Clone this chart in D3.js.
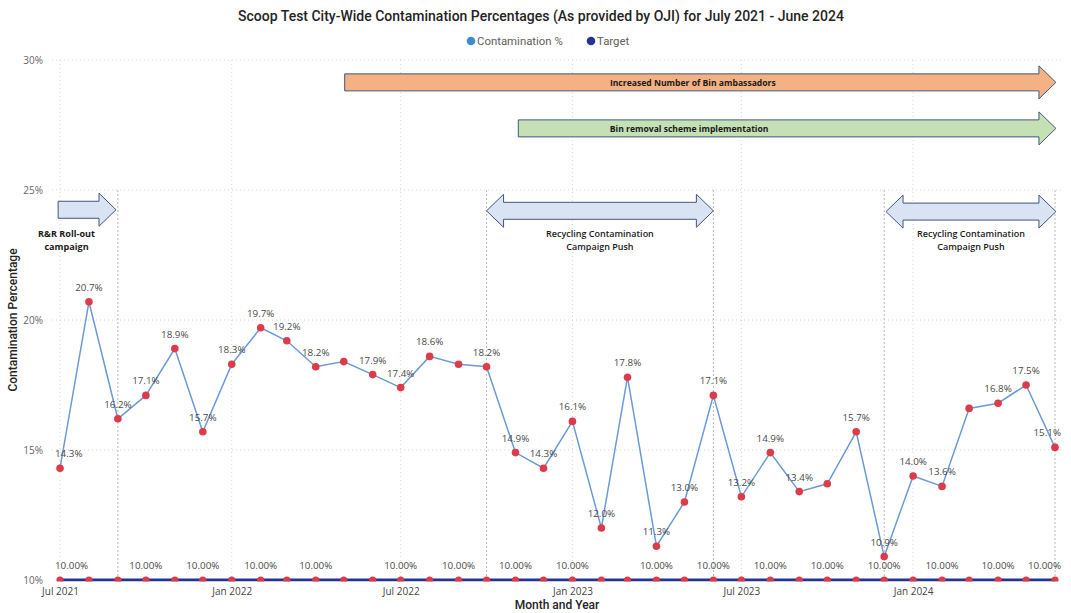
<!DOCTYPE html>
<html><head><meta charset="utf-8">
<script src="https://cdn.jsdelivr.net/npm/d3@7"></script>
<style>
body{margin:0;background:#fff}
svg{display:block}
</style>
</head><body>
<svg id="chart" width="1071" height="613"></svg>
<script>
// ---------- data ----------
const months = ["2021-07","2021-08","2021-09","2021-10","2021-11","2021-12",
  "2022-01","2022-02","2022-03","2022-04","2022-05","2022-06",
  "2022-07","2022-08","2022-09","2022-10","2022-11","2022-12",
  "2023-01","2023-02","2023-03","2023-04","2023-05","2023-06",
  "2023-07","2023-08","2023-09","2023-10","2023-11","2023-12",
  "2024-01","2024-02","2024-03","2024-04","2024-05","2024-06"];
const contamination = [14.3,20.7,16.2,17.1,18.9,15.7,
  18.3,19.7,19.2,18.2,18.4,17.9,
  17.4,18.6,18.3,18.2,14.9,14.3,
  16.1,12.0,17.8,11.3,13.0,17.1,
  13.2,14.9,13.4,13.7,15.7,10.9,
  14.0,13.6,16.6,16.8,17.5,15.1];
const target = [10,10,10,10,10,10, 10,10,10,10,10,10, 10,10,10,10,10,10,
  10,10,10,10,10,10, 10,10,10,10,10,10, 10,10,10,10,10,10];
const contaminationLabelShown = [1,1,1,1,1,1, 1,1,1,1,0,1, 1,1,0,1,1,1,
  1,1,1,1,1,1, 1,1,1,0,1,1, 1,1,0,1,1,1];
const targetLabelShown = [1,0,0,1,0,1, 0,1,0,1,0,0, 1,0,1,0,1,0,
  1,0,0,1,0,1, 0,1,0,1,0,1, 0,1,0,1,0,1];
const yTicks = [10,15,20,25,30];
const xTickMonths = ["2021-07","2022-01","2022-07","2023-01","2023-07","2024-01"];
const xTickLabels = ["Jul 2021","Jan 2022","Jul 2022","Jan 2023","Jul 2023","Jan 2024"];
const referenceMonths = ["2021-09","2022-10","2023-06","2023-12","2024-06"];
const referenceTop = 25;

const titleText = "Scoop Test City-Wide Contamination Percentages (As provided by OJI) for July 2021 - June 2024";
const seriesNames = ["Contamination %","Target"];

// annotations (dates / percentage levels)
const singleArrowStart = ["2022-05-02","2022-11-04","2021-06-29"];
const singleArrowEnd   = ["2024-06-02","2024-06-02","2021-08-30"];
const singleArrowLevel = [29.14, 27.37, 24.24];
const singleArrowFill  = ["#F4B183","#C5E0B4","#DAE3F3"];
const singleArrowText  = ["Increased Number of Bin ambassadors","Bin removal scheme implementation",""];
const singleArrowTextAt = ["2023-05-10","2023-05-06",""];

const doubleArrowStart = ["2022-10-01","2023-12-03"];
const doubleArrowEnd   = ["2023-06-01","2024-06-02"];
const doubleArrowLevel = [24.2, 24.17];
const doubleArrowText  = [["Recycling Contamination","Campaign Push"],["Recycling Contamination","Campaign Push"]];

const rrText = ["R&R Roll-out","campaign"];
const rrTextAt = "2021-07-08";
const annotationTextLevel = 23.33;

// ---------- setup ----------
const parseM = d3.timeParse("%Y-%m");
const parseD = d3.timeParse("%Y-%m-%d");
const dates = months.map(parseM);
const svg = d3.select("#chart");
const pL = 60, pR = 1055, pT = 60, pB = 580;

const x = d3.scaleTime().domain([dates[0], dates[dates.length-1]]).range([pL, pR]);
const y = d3.scaleLinear().domain([10,30]).range([pB, pT]);

const lineBlue = "#6A9BD8", legendBlue = "#3F8BDA", navy = "#25348F", red = "#DD3B4A";
const sansLbl = "'Open Sans', 'Noto Sans', sans-serif";
const sansDin = "Roboto, 'Noto Sans', sans-serif";
const sansCal = "'Open Sans', 'Liberation Sans', sans-serif";

// title
svg.append("text").attr("x", 541).attr("y", 21).attr("text-anchor","middle")
  .attr("font-family", sansDin).attr("font-weight", 500).attr("font-size", 14)
  .attr("fill","#252423").text(titleText);

// legend
const legendColors = [legendBlue, navy];
const legendX = [471, 591];
seriesNames.forEach((n,i)=>{
  svg.append("circle").attr("cx", legendX[i]).attr("cy", 41).attr("r", 4.3).attr("fill", legendColors[i]);
  svg.append("text").attr("x", legendX[i]+6).attr("y", 45).attr("font-family", sansDin)
    .attr("font-size", 11.4).attr("fill","#605E5C").text(n);
});

// gridlines
svg.append("g").selectAll("line").data(yTicks.filter(d=>d>10)).join("line")
  .attr("x1", 52).attr("x2", 1063).attr("y1", d=>y(d)).attr("y2", d=>y(d))
  .attr("stroke","#D4D4D4").attr("stroke-width",1).attr("stroke-dasharray","1,3");
svg.append("g").selectAll("line").data(xTickMonths.map(parseM)).join("line")
  .attr("x1", d=>x(d)).attr("x2", d=>x(d)).attr("y1", pT).attr("y2", pB)
  .attr("stroke","#D4D4D4").attr("stroke-width",1).attr("stroke-dasharray","1,3");

// reference lines
svg.append("g").selectAll("line").data(referenceMonths.map(parseM)).join("line")
  .attr("x1", d=>x(d)).attr("x2", d=>x(d)).attr("y1", y(referenceTop)).attr("y2", pB)
  .attr("stroke","#B8B8B8").attr("stroke-width",1).attr("stroke-dasharray","2,2");

// axes
const yAxis = d3.axisLeft(y).tickValues(yTicks).tickFormat(d=>d+"%").tickSize(0).tickPadding(9);
const gy = svg.append("g").attr("transform",`translate(52,0)`).call(yAxis);
gy.select(".domain").remove();
gy.selectAll("text").attr("font-family", sansLbl).attr("font-size", 10).attr("fill","#666");

const xAxis = d3.axisBottom(x).tickValues(xTickMonths.map(parseM))
  .tickFormat((d,i)=>xTickLabels[i]).tickSize(0).tickPadding(8);
const gx = svg.append("g").attr("transform",`translate(0,${pB})`).call(xAxis);
gx.select(".domain").remove();
gx.selectAll("text").attr("font-family", sansLbl).attr("font-size", 10).attr("fill","#444");

// axis titles
svg.append("text").attr("transform","translate(17,320) rotate(-90)").attr("text-anchor","middle")
  .attr("font-family", sansDin).attr("font-weight",500).attr("font-size",12).attr("fill","#252423")
  .text("Contamination Percentage");
svg.append("text").attr("x", 557).attr("y", 609).attr("text-anchor","middle")
  .attr("font-family", sansDin).attr("font-weight",500).attr("font-size",12).attr("fill","#252423")
  .text("Month and Year");

// annotations: arrows
const bh = 8.5, hh = 16.5, hl = 17;
function singlePath(x1,x2,cy){
  return `M${x1},${cy-bh}L${x2-hl},${cy-bh}L${x2-hl},${cy-hh}L${x2},${cy}L${x2-hl},${cy+hh}L${x2-hl},${cy+bh}L${x1},${cy+bh}Z`;
}
function doublePath(x1,x2,cy){
  return `M${x1},${cy}L${x1+hl},${cy-hh}L${x1+hl},${cy-bh}L${x2-hl},${cy-bh}L${x2-hl},${cy-hh}L${x2},${cy}L${x2-hl},${cy+hh}L${x2-hl},${cy+bh}L${x1+hl},${cy+bh}L${x1+hl},${cy+hh}Z`;
}
const ann = svg.append("g");
singleArrowStart.forEach((s,i)=>{
  const x1 = x(parseD(s)), x2 = x(parseD(singleArrowEnd[i])), cy = y(singleArrowLevel[i]);
  ann.append("path").attr("d", singlePath(x1,x2,cy)).attr("fill", singleArrowFill[i])
    .attr("stroke","#41577F").attr("stroke-width",1);
  if (singleArrowText[i]) {
    ann.append("text").attr("x", x(parseD(singleArrowTextAt[i]))).attr("y", cy+3.3)
      .attr("text-anchor","middle").attr("font-family", sansCal).attr("font-weight",700)
      .attr("font-size",8.6).attr("fill","#1a1a1a").text(singleArrowText[i]);
  }
});
doubleArrowStart.forEach((s,i)=>{
  const x1 = x(parseD(s)), x2 = x(parseD(doubleArrowEnd[i])), cy = y(doubleArrowLevel[i]);
  ann.append("path").attr("d", doublePath(x1,x2,cy)).attr("fill", "#DAE3F3")
    .attr("stroke","#41577F").attr("stroke-width",1);
  doubleArrowText[i].forEach((t,j)=>{
    ann.append("text").attr("x",(x1+x2)/2).attr("y", y(annotationTextLevel)+3.3+j*13.4)
      .attr("text-anchor","middle").attr("font-family", sansCal).attr("font-weight",600)
      .attr("font-size",9).attr("fill","#1a1a1a").text(t);
  });
});
rrText.forEach((t,j)=>{
  ann.append("text").attr("x", x(parseD(rrTextAt))).attr("y", y(annotationTextLevel)+3.3+j*13.4)
    .attr("text-anchor","middle").attr("font-family", sansCal).attr("font-weight",700)
    .attr("font-size",9.1).attr("fill","#1a1a1a").text(t);
});

// clip
svg.append("defs").append("clipPath").attr("id","plotclip").append("rect")
  .attr("x", 48).attr("y", 40).attr("width", 1016).attr("height", pB+1.5-40);
const plot = svg.append("g").attr("clip-path","url(#plotclip)");

// target series
const tLine = d3.line().x((d,i)=>x(dates[i])).y(d=>y(d));
plot.append("path").datum(target).attr("d", tLine).attr("fill","none")
  .attr("stroke", navy).attr("stroke-width",3);
plot.append("g").selectAll("circle").data(target).join("circle")
  .attr("cx",(d,i)=>x(dates[i])).attr("cy", d=>y(d)).attr("r",3.6).attr("fill", red);

// contamination series
plot.append("path").datum(contamination).attr("d", tLine).attr("fill","none")
  .attr("stroke", lineBlue).attr("stroke-width",1.5);
plot.append("g").selectAll("circle").data(contamination).join("circle")
  .attr("cx",(d,i)=>x(dates[i])).attr("cy", d=>y(d)).attr("r",3.8).attr("fill", red);

// labels
const minL = 55, maxR = 1061;
function placeLabels(values, shown, fmt, offset){
  const g = svg.append("g");
  values.forEach((v,i)=>{
    if(!shown[i]) return;
    const t = g.append("text").attr("y", y(v)-offset).attr("text-anchor","middle")
      .attr("font-family", sansLbl).attr("font-size", 9.8).attr("fill","#4a4a4a").text(fmt(v));
    const w = t.node().getComputedTextLength();
    let cx = x(dates[i]);
    cx = Math.max(minL + w/2, Math.min(maxR - w/2, cx));
    t.attr("x", cx);
  });
}
placeLabels(contamination, contaminationLabelShown, v=>v.toFixed(1)+"%", 11);
placeLabels(target, targetLabelShown, v=>v.toFixed(2)+"%", 11.5);
</script>
</body></html>
